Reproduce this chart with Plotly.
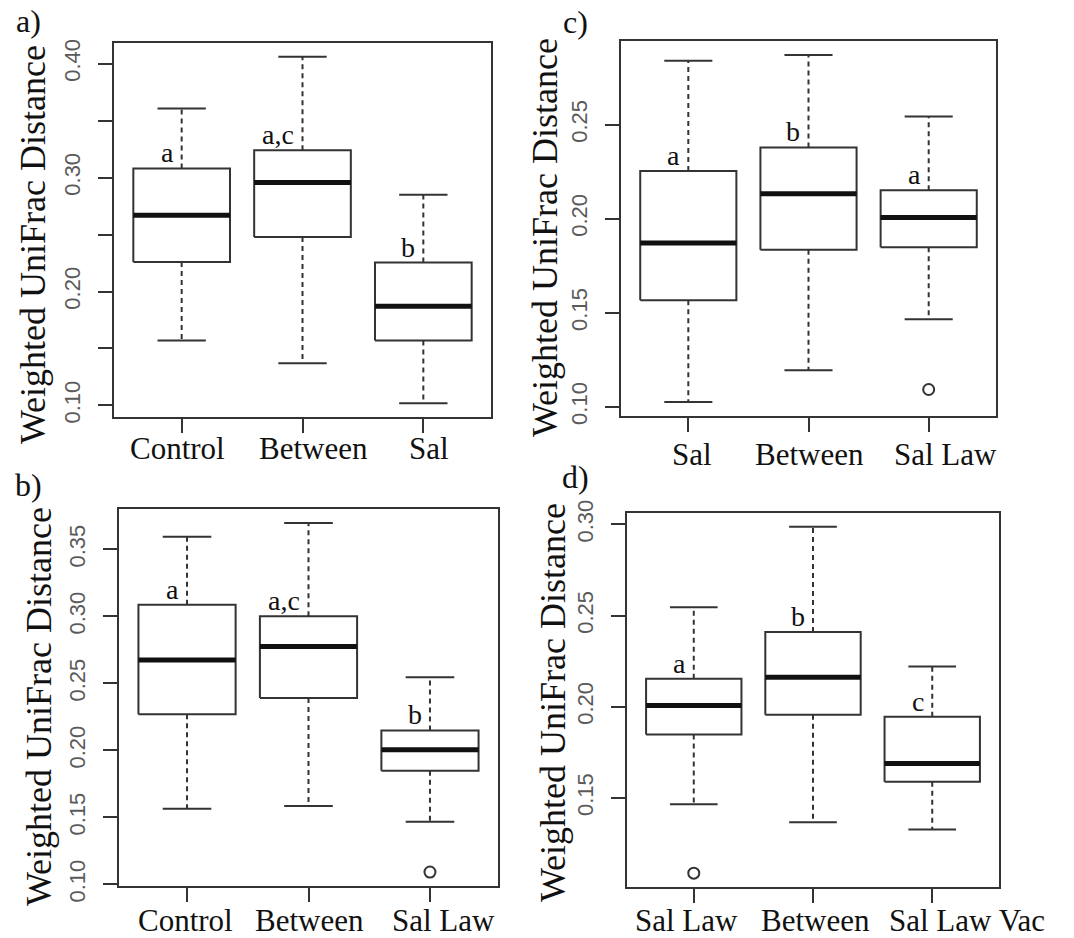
import plotly.graph_objects as go

W, H = 1074, 938

# ---------------- data ----------------
a_groups = ["Control", "Between", "Sal"]
a_upper = [0.3606, 0.406, 0.285]
a_q3 = [0.308, 0.324, 0.2254]
a_median = [0.267, 0.2957, 0.187]
a_q1 = [0.226, 0.2478, 0.157]
a_lower = [0.157, 0.137, 0.102]
a_outliers = [[], [], []]
a_letters = ["a", "a,c", "b"]
a_ticks = [0.10, 0.15, 0.20, 0.25, 0.30, 0.35, 0.40]
a_ticklabels = ["0.10", "", "0.20", "", "0.30", "", "0.40"]

b_groups = ["Control", "Between", "Sal Law"]
b_upper = [0.3595, 0.3697, 0.2545]
b_q3 = [0.3087, 0.300, 0.2149]
b_median = [0.2674, 0.2776, 0.2005]
b_q1 = [0.2269, 0.2391, 0.1848]
b_lower = [0.1565, 0.1585, 0.1468]
b_outliers = [[], [], [0.1092]]
b_letters = ["a", "a,c", "b"]
b_ticks = [0.10, 0.15, 0.20, 0.25, 0.30, 0.35]
b_ticklabels = ["0.10", "0.15", "0.20", "0.25", "0.30", "0.35"]

c_groups = ["Sal", "Between", "Sal Law"]
c_upper = [0.2840, 0.2871, 0.2543]
c_q3 = [0.2254, 0.2379, 0.2151]
c_median = [0.1871, 0.2133, 0.2007]
c_q1 = [0.1567, 0.1835, 0.1848]
c_lower = [0.1025, 0.1195, 0.1465]
c_outliers = [[], [], [0.1092]]
c_letters = ["a", "b", "a"]
c_ticks = [0.10, 0.15, 0.20, 0.25]
c_ticklabels = ["0.10", "0.15", "0.20", "0.25"]

d_groups = ["Sal Law", "Between", "Sal Law Vac"]
d_upper = [0.2546, 0.2987, 0.2221]
d_q3 = [0.2154, 0.2410, 0.1945]
d_median = [0.2007, 0.2162, 0.1688]
d_q1 = [0.1848, 0.1956, 0.1589]
d_lower = [0.1465, 0.1366, 0.1327]
d_outliers = [[0.1087], [], []]
d_letters = ["a", "b", "c"]
d_ticks = [0.15, 0.20, 0.25, 0.30]
d_ticklabels = ["0.15", "0.20", "0.25", "0.30"]

y_title = "Weighted UniFrac Distance"

# ---------------- layout (pixels) ----------------
panels = [
    dict(tag="a)", groups=a_groups, up=a_upper, q3=a_q3, med=a_median, q1=a_q1, lo=a_lower,
         out=a_outliers, letters=a_letters, ticks=a_ticks, ticklabels=a_ticklabels,
         frame=(114, 491, 43, 417), tagpos=(28, 21), titlepos=(33, 245),
         labgap=12, labshift=[-4, 11, 6]),
    dict(tag="b)", groups=b_groups, up=b_upper, q3=b_q3, med=b_median, q1=b_q1, lo=b_lower,
         out=b_outliers, letters=b_letters, ticks=b_ticks, ticklabels=b_ticklabels,
         frame=(119, 498, 509, 886), tagpos=(28, 485), titlepos=(39, 707),
         labgap=15, labshift=[-2, 1, 14]),
    dict(tag="c)", groups=c_groups, up=c_upper, q3=c_q3, med=c_median, q1=c_q1, lo=c_lower,
         out=c_outliers, letters=c_letters, ticks=c_ticks, ticklabels=c_ticklabels,
         frame=(621, 996, 41, 416), tagpos=(575, 22), titlepos=(545, 238),
         labgap=19, labshift=[4, 1, 17]),
    dict(tag="d)", groups=d_groups, up=d_upper, q3=d_q3, med=d_median, q1=d_q1, lo=d_lower,
         out=d_outliers, letters=d_letters, ticks=d_ticks, ticklabels=d_ticklabels,
         frame=(627, 999, 513, 887), tagpos=(575, 477), titlepos=(553, 703),
         labgap=14, labshift=[-7, 2, 35]),
]

LINE = "#333333"
SERIF = "Liberation Serif, Times New Roman, serif"
SANS = "Liberation Sans, Arial, sans-serif"
BOXW = 0.8
CAPW = 0.4

fig = go.Figure()
annotations = []

def px(x):
    return x / W

def py(y):
    return 1 - y / H

for k, p in enumerate(panels):
    n = k + 1
    xa = "x" if n == 1 else f"x{n}"
    ya = "y" if n == 1 else f"y{n}"
    box_x, box_y, med_x, med_y, wh_x, wh_y, cap_x, cap_y, o_x, o_y = ([] for _ in range(10))
    for i in range(len(p["groups"])):
        c = i + 1
        l, r = c - BOXW / 2, c + BOXW / 2
        box_x += [l, r, r, l, l, None]
        box_y += [p["q1"][i], p["q1"][i], p["q3"][i], p["q3"][i], p["q1"][i], None]
        med_x += [l, r, None]
        med_y += [p["med"][i], p["med"][i], None]
        wh_x += [c, c, None, c, c, None]
        wh_y += [p["q3"][i], p["up"][i], None, p["q1"][i], p["lo"][i], None]
        cap_x += [c - CAPW / 2, c + CAPW / 2, None, c - CAPW / 2, c + CAPW / 2, None]
        cap_y += [p["up"][i], p["up"][i], None, p["lo"][i], p["lo"][i], None]
        for v in p["out"][i]:
            o_x.append(c)
            o_y.append(v)
        # significance letter above the box
        annotations.append(dict(
            x=c - 0.05, y=p["q3"][i], xref=xa, yref=ya, text=p["letters"][i],
            showarrow=False, xanchor="right", yanchor="bottom", yshift=-2,
            font=dict(family=SERIF, size=28, color="#111111")))
        # category label below the axis
        annotations.append(dict(
            x=c, y=0, xref=xa, yref=f"{ya} domain", text=p["groups"][i],
            showarrow=False, xanchor="center", yanchor="top",
            xshift=p["labshift"][i], yshift=-p["labgap"],
            font=dict(family=SERIF, size=31, color="#111111")))
    fig.add_trace(go.Scatter(x=wh_x, y=wh_y, mode="lines", xaxis=xa, yaxis=ya,
                             line=dict(color=LINE, width=2, dash="5px,4px"), hoverinfo="skip"))
    fig.add_trace(go.Scatter(x=cap_x, y=cap_y, mode="lines", xaxis=xa, yaxis=ya,
                             line=dict(color=LINE, width=2), hoverinfo="skip"))
    fig.add_trace(go.Scatter(x=box_x, y=box_y, mode="lines", xaxis=xa, yaxis=ya,
                             line=dict(color=LINE, width=2), hoverinfo="skip"))
    fig.add_trace(go.Scatter(x=med_x, y=med_y, mode="lines", xaxis=xa, yaxis=ya,
                             line=dict(color="#111111", width=5), hoverinfo="skip"))
    if o_x:
        fig.add_trace(go.Scatter(x=o_x, y=o_y, mode="markers", xaxis=xa, yaxis=ya,
                                 marker=dict(symbol="circle-open", size=11, color=LINE,
                                             line=dict(width=2, color=LINE)),
                                 hoverinfo="skip"))

    vals = p["lo"] + p["up"] + [v for g in p["out"] for v in g]
    lo, hi = min(vals), max(vals)
    pad = (hi - lo) * 0.04
    x0, x1, y0, y1 = p["frame"]
    ng = len(p["groups"])
    xpad = ng * 0.04
    fig.layout[f"xaxis{'' if n == 1 else n}"] = dict(
        domain=[px(x0), px(x1)], anchor=ya, range=[0.5 - xpad / 2, ng + 0.5 + xpad / 2],
        tickmode="array", tickvals=list(range(1, ng + 1)), showticklabels=False,
        ticks="outside", ticklen=14, tickwidth=2, tickcolor=LINE,
        showline=True, linecolor=LINE, linewidth=2, mirror=True, automargin=False,
        showgrid=False, zeroline=False, fixedrange=True)
    fig.layout[f"yaxis{'' if n == 1 else n}"] = dict(
        domain=[py(y1), py(y0)], anchor=xa, range=[lo - pad, hi + pad],
        tickmode="array", tickvals=p["ticks"], ticktext=p["ticklabels"],
        ticks="outside", ticklen=14, tickwidth=2, tickcolor=LINE, tickangle=-90,
        showline=True, linecolor=LINE, linewidth=2, mirror=True, automargin=False,
        showgrid=False, zeroline=False, ticklabelstandoff=9,
        tickfont=dict(family=SANS, size=22, color="#5a5a5a"), fixedrange=True)
    annotations.append(dict(
        x=px(p["titlepos"][0]), y=py(p["titlepos"][1]), xref="paper", yref="paper",
        text=y_title, textangle=-90, showarrow=False, xanchor="center", yanchor="middle",
        font=dict(family=SERIF, size=36, color="#111111")))
    annotations.append(dict(
        x=px(p["tagpos"][0]), y=py(p["tagpos"][1]), xref="paper", yref="paper",
        text=p["tag"], showarrow=False, xanchor="center", yanchor="middle",
        font=dict(family=SERIF, size=32, color="#111111")))

fig.update_layout(
    width=W, height=H, margin=dict(l=0, r=0, t=0, b=0),
    paper_bgcolor="white", plot_bgcolor="white", showlegend=False,
    annotations=annotations)

fig.write_html("out.html")
